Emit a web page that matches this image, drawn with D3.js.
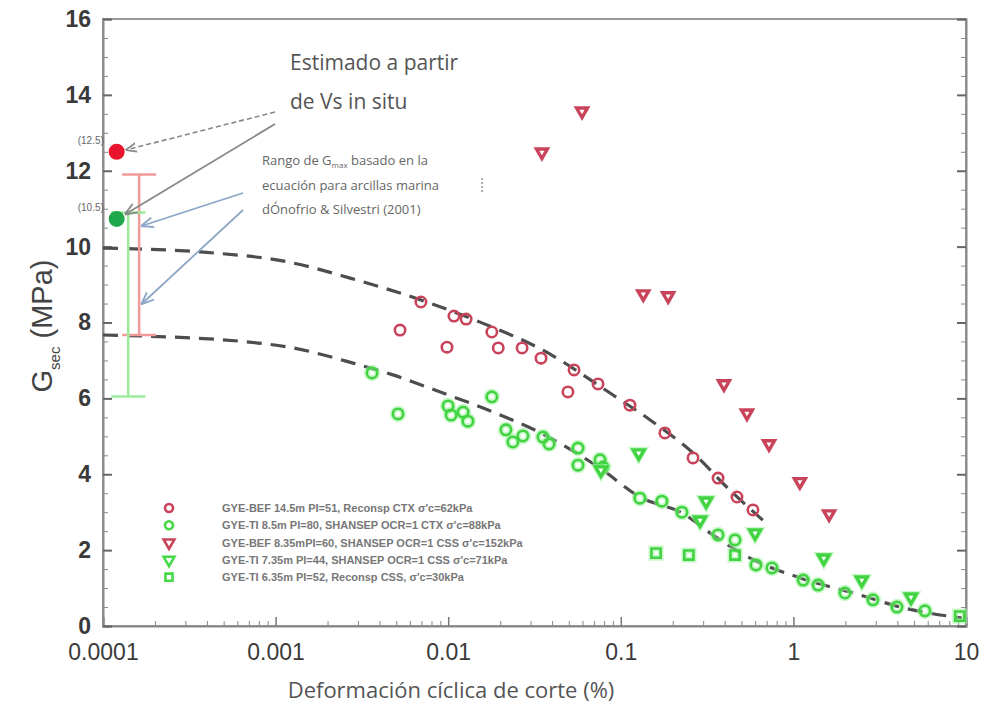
<!DOCTYPE html>
<html>
<head>
<meta charset="utf-8">
<script src="https://cdn.jsdelivr.net/npm/d3@7"></script>
<style>
  body { margin: 0; background: #fff; }
  svg { display: block; }
</style>
</head>
<body>
<div id="chart"></div>
<script>
// layout
const margin = { top: 19, right: 19, bottom: 82, left: 103 },
    W = 985, H = 708,
    width = W - margin.left - margin.right,
    height = H - margin.top - margin.bottom;

// data: [deformación (%), Gsec (MPa)]
const redCircles = [
    [0.00526, 7.80], [0.00695, 8.54], [0.00984, 7.35], [0.0108, 8.17], [0.0127, 8.09],
    [0.0179, 7.75], [0.0195, 7.33], [0.0268, 7.33], [0.0345, 7.06], [0.0494, 6.17],
    [0.0536, 6.75], [0.0738, 6.38], [0.113, 5.82], [0.180, 5.09], [0.262, 4.43],
    [0.366, 3.90], [0.471, 3.40], [0.583, 3.06]
];
const greenCircles = [
    [0.00362, 6.67], [0.00512, 5.59], [0.00998, 5.80], [0.0104, 5.56], [0.0122, 5.64],
    [0.0130, 5.40], [0.0179, 6.04], [0.0216, 5.17], [0.0237, 4.85], [0.0271, 5.01],
    [0.0354, 4.98], [0.0384, 4.80], [0.0565, 4.69], [0.0565, 4.24], [0.0758, 4.38],
    [0.0789, 4.19], [0.129, 3.37], [0.173, 3.29], [0.226, 3.00], [0.366, 2.40],
    [0.459, 2.27], [0.607, 1.61], [0.751, 1.53], [1.14, 1.21], [1.39, 1.08],
    [1.99, 0.87], [2.89, 0.69], [3.98, 0.50], [5.78, 0.40]
];
const redTriangles = [
    [0.0349, 12.49], [0.0596, 13.57], [0.135, 8.75], [0.188, 8.70], [0.396, 6.38],
    [0.538, 5.61], [0.722, 4.80], [1.09, 3.80], [1.61, 2.95]
];
const greenTriangles = [
    [0.0767, 4.11], [0.127, 4.56], [0.288, 2.79], [0.312, 3.29], [0.600, 2.45],
    [1.50, 1.79], [2.49, 1.21], [4.80, 0.76]
];
const greenSquares = [
    [0.160, 1.92], [0.248, 1.87], [0.459, 1.87], [9.2, 0.26]
];

// curvas de degradación
const upperCurve = [
    [0.0001, 9.96], [0.000365, 9.86], [0.00126, 9.57], [0.0027, 9.17], [0.00753, 8.54],
    [0.0153, 8.01], [0.0354, 7.27], [0.0901, 6.09], [0.148, 5.43], [0.262, 4.56],
    [0.429, 3.58], [0.684, 2.74]
];
const lowerCurve = [
    [0.0001, 7.67], [0.000682, 7.49], [0.00126, 7.33], [0.00281, 6.93], [0.00478, 6.62],
    [0.00933, 6.14], [0.0182, 5.64], [0.0354, 5.06], [0.0758, 4.16], [0.129, 3.40],
    [0.226, 2.98], [0.342, 2.40], [0.561, 1.79], [1.09, 1.27], [2.43, 0.82],
    [4.15, 0.50], [9.48, 0.21]
];

// Gmax a partir de Vs in situ
const vsPoints = [
    { x: 0.00012, g: 12.5, label: "(12.5)", color: "#e8152d" },
    { x: 0.00012, g: 10.73, label: "(10.5)", color: "#1ea84b" }
];
// rango de Gmax (d'Onofrio & Silvestri)
const rangeBars = [
    { x: 0.000162, lo: 7.67, hi: 11.9, color: "#f29a9a" },
    { x: 0.000140, lo: 6.05, hi: 10.9, color: "#9beb9b" }
];

const xTicks = [0.0001, 0.001, 0.01, 0.1, 1, 10];
const xTickLabels = ["0.0001", "0.001", "0.01", "0.1", "1", "10"];
const yTicks = [0, 2, 4, 6, 8, 10, 12, 14, 16];

const legendItems = [
    { label: "GYE-BEF 14.5m PI=51, Reconsp CTX σ'c=62kPa", shape: "circle", color: "#c9445a" },
    { label: "GYE-TI 8.5m PI=80, SHANSEP OCR=1 CTX σ'c=88kPa", shape: "circle", color: "#46d846" },
    { label: "GYE-BEF 8.35mPI=60, SHANSEP OCR=1 CSS σ'c=152kPa", shape: "triangle", color: "#c9445a" },
    { label: "GYE-TI 7.35m PI=44, SHANSEP OCR=1 CSS σ'c=71kPa", shape: "triangle", color: "#46d846" },
    { label: "GYE-TI 6.35m PI=52, Reconsp CSS, σ'c=30kPa", shape: "square", color: "#46d846" }
];

const x = d3.scaleLog().domain([0.0001, 10]).range([0, width]);
const y = d3.scaleLinear().domain([0, 16]).range([height, 0]);

const svg = d3.select("#chart").append("svg")
    .attr("width", W)
    .attr("height", H);

const defs = svg.append("defs");
defs.append("marker")
    .attr("id", "arrGray")
    .attr("viewBox", "0 0 10 10")
    .attr("refX", 9).attr("refY", 5)
    .attr("markerWidth", 7).attr("markerHeight", 7)
    .attr("orient", "auto")
    .append("path").attr("d", "M0,1L10,5L0,9").attr("fill", "none").attr("stroke", "#888").attr("stroke-width", 1.5);
defs.append("marker")
    .attr("id", "arrBlue")
    .attr("viewBox", "0 0 10 10")
    .attr("refX", 9).attr("refY", 5)
    .attr("markerWidth", 7).attr("markerHeight", 7)
    .attr("orient", "auto")
    .append("path").attr("d", "M0,1L10,5L0,9").attr("fill", "none").attr("stroke", "#8da6c6").attr("stroke-width", 1.5);

const g = svg.append("g").attr("transform", `translate(${margin.left},${margin.top})`);

// marco
g.append("rect")
    .attr("width", width).attr("height", height)
    .attr("fill", "none").attr("stroke", "#9a9a9a").attr("stroke-width", 2);

// eje x
const minorX = [];
for (let e = -4; e < 1; e++) for (let m = 2; m <= 9; m++) minorX.push(m * Math.pow(10, e));
g.append("g")
    .attr("transform", `translate(0,${height})`)
    .call(d3.axisBottom(x).tickValues(minorX).tickSize(-5).tickFormat(""))
    .call(a => a.select(".domain").remove())
    .selectAll("line").attr("stroke", "#888");
const xAxis = g.append("g")
    .attr("transform", `translate(0,${height})`)
    .call(d3.axisBottom(x).tickValues(xTicks).tickSize(-9).tickPadding(18)
        .tickFormat((d, i) => xTickLabels[i]));
xAxis.select(".domain").attr("stroke", "#888").attr("stroke-width", 2);
xAxis.selectAll("line").attr("stroke", "#777").attr("stroke-width", 1.5);
xAxis.selectAll("text")
    .attr("font-family", "'Liberation Sans', Arial, sans-serif")
    .attr("font-size", 23).attr("fill", "#3a3a3a");

// eje y
const minorY = d3.range(0, 16.01, 0.5).filter(v => v % 2 !== 0);
[0, width].forEach((pos, k) => {
    const ax = k === 0 ? d3.axisLeft(y) : d3.axisRight(y);
    g.append("g")
        .attr("transform", `translate(${pos},0)`)
        .call(ax.tickValues(minorY).tickSize(-5).tickFormat(""))
        .call(a => a.select(".domain").remove())
        .selectAll("line").attr("stroke", "#888");
    const major = g.append("g")
        .attr("transform", `translate(${pos},0)`)
        .call(ax.tickValues(yTicks).tickSize(-9).tickPadding(12)
            .tickFormat(k === 0 ? d3.format("d") : ""));
    major.select(".domain").attr("stroke", "#8a8a8a").attr("stroke-width", 2);
    major.selectAll("line").attr("stroke", "#666").attr("stroke-width", 2);
    major.selectAll("text")
        .attr("font-family", "'Liberation Sans', Arial, sans-serif")
        .attr("font-weight", "bold")
        .attr("font-size", 23).attr("fill", "#3a3a3a");
});

// títulos de ejes
svg.append("text")
    .attr("x", 451)
    .attr("y", 698)
    .attr("text-anchor", "middle")
    .attr("font-family", "'Open Sans', sans-serif")
    .attr("font-size", 22)
    .attr("fill", "#555")
    .text("Deformación cíclica de corte (%)");

const yTitle = svg.append("text")
    .attr("transform", `translate(52,326) rotate(-90)`)
    .attr("text-anchor", "middle")
    .attr("font-family", "'Liberation Sans', Arial, sans-serif")
    .attr("font-size", 29)
    .attr("fill", "#444");
yTitle.append("tspan").text("G");
yTitle.append("tspan").attr("font-size", 15).attr("dy", 8).text("sec");
yTitle.append("tspan").attr("dy", -8).text(" (MPa)");

// curvas
const line = d3.line()
    .x(d => x(d[0]))
    .y(d => y(d[1]))
    .curve(d3.curveMonotoneX);
[upperCurve, lowerCurve].forEach(c => {
    g.append("path")
        .datum(c)
        .attr("d", line)
        .attr("fill", "none")
        .attr("stroke", "#4d4d4d")
        .attr("stroke-width", 3.2)
        .attr("stroke-dasharray", "15,9");
});

// barras de rango
rangeBars.forEach(b => {
    const bx = x(b.x);
    g.append("line").attr("x1", bx).attr("x2", bx).attr("y1", y(b.hi)).attr("y2", y(b.lo))
        .attr("stroke", b.color).attr("stroke-width", 2.5);
    [b.hi, b.lo].forEach(v => {
        g.append("line").attr("x1", bx - 17).attr("x2", bx + 17).attr("y1", y(v)).attr("y2", y(v))
            .attr("stroke", b.color).attr("stroke-width", 2.5);
    });
});

// símbolos
const markerSymbol = {
    circle: d3.symbol().type(d3.symbolCircle).size(85),
    triangle: d3.symbol().type(d3.symbolTriangle).size(52),
    square: d3.symbol().type(d3.symbolSquare).size(85)
};
function drawSeries(data, shape, color, glow) {
    const rot = shape === "triangle" ? " rotate(180)" : "";
    if (glow) {
        g.append("g").selectAll("path")
            .data(data).enter().append("path")
            .attr("transform", d => `translate(${x(d[0])},${y(d[1])})${rot}`)
            .attr("d", markerSymbol[shape])
            .attr("fill", "none")
            .attr("stroke", "#9ef29e")
            .attr("stroke-opacity", 0.55)
            .attr("stroke-width", 6);
    }
    g.append("g").selectAll("path")
        .data(data).enter().append("path")
        .attr("transform", d => `translate(${x(d[0])},${y(d[1])})${rot}`)
        .attr("d", markerSymbol[shape])
        .attr("fill", shape === "triangle" ? "#fff" : "none")
        .attr("stroke", color)
        .attr("stroke-width", shape === "triangle" ? 3.4 : 2.6);
}
drawSeries(greenSquares, "square", "#41d341", true);
drawSeries(greenCircles, "circle", "#41d341", true);
drawSeries(greenTriangles, "triangle", "#41d341", true);
drawSeries(redCircles, "circle", "#c9445a", false);
drawSeries(redTriangles, "triangle", "#c9445a", false);

// puntos de Vs in situ
vsPoints.forEach(p => {
    g.append("circle").attr("cx", x(p.x)).attr("cy", y(p.g)).attr("r", 8).attr("fill", p.color);
    g.append("text")
        .attr("x", x(p.x) - 39).attr("y", y(p.g) - 8)
        .attr("font-family", "'Liberation Sans', Arial, sans-serif")
        .attr("font-size", 10).attr("fill", "#666")
        .text(p.label);
});

// anotaciones
const note = svg.append("g").attr("font-family", "'Open Sans', sans-serif");
note.append("text").attr("x", 290).attr("y", 70).attr("font-size", 21).attr("fill", "#555").text("Estimado a partir");
note.append("text").attr("x", 290).attr("y", 109).attr("font-size", 21).attr("fill", "#555").text("de Vs in situ");

const n2 = note.append("text").attr("x", 262).attr("y", 165).attr("font-size", 13).attr("fill", "#666");
n2.append("tspan").text("Rango de G");
n2.append("tspan").attr("font-size", 8).attr("dy", 3).text("max");
n2.append("tspan").attr("dy", -3).text(" basado en la");
note.append("text").attr("x", 262).attr("y", 190).attr("font-size", 13).attr("fill", "#666").text("ecuación para arcillas marina");
note.append("text").attr("x", 262).attr("y", 214).attr("font-size", 13).attr("fill", "#666").text("dÓnofrio & Silvestri (2001)");
note.append("line").attr("x1", 482).attr("x2", 482).attr("y1", 178).attr("y2", 192)
    .attr("stroke", "#aaa").attr("stroke-width", 2).attr("stroke-dasharray", "2,2");

// flechas
const ox = margin.left, oy = margin.top;
svg.append("line")
    .attr("x1", 275).attr("y1", 112)
    .attr("x2", ox + x(vsPoints[0].x) + 10).attr("y2", oy + y(vsPoints[0].g) - 2)
    .attr("stroke", "#888").attr("stroke-width", 1.6).attr("stroke-dasharray", "5,3")
    .attr("marker-end", "url(#arrGray)");
svg.append("line")
    .attr("x1", 275).attr("y1", 124)
    .attr("x2", ox + x(vsPoints[1].x) + 9).attr("y2", oy + y(vsPoints[1].g) - 5)
    .attr("stroke", "#888").attr("stroke-width", 1.8)
    .attr("marker-end", "url(#arrGray)");
svg.append("line")
    .attr("x1", 243).attr("y1", 193)
    .attr("x2", ox + x(rangeBars[0].x) + 3).attr("y2", oy + y(10.55))
    .attr("stroke", "#8da6c6").attr("stroke-width", 1.8)
    .attr("marker-end", "url(#arrBlue)");
svg.append("line")
    .attr("x1", 243).attr("y1", 210)
    .attr("x2", ox + x(rangeBars[0].x) + 3).attr("y2", oy + y(8.5))
    .attr("stroke", "#8da6c6").attr("stroke-width", 1.8)
    .attr("marker-end", "url(#arrBlue)");

// leyenda
const legend = svg.append("g").attr("transform", "translate(169,508)");
legendItems.forEach((d, i) => {
    const row = legend.append("g").attr("transform", `translate(0,${i * 17.3})`);
    row.append("path")
        .attr("d", d3.symbol().type(d.shape === "circle" ? d3.symbolCircle : d.shape === "triangle" ? d3.symbolTriangle : d3.symbolSquare).size(50))
        .attr("transform", d.shape === "triangle" ? "rotate(180)" : null)
        .attr("fill", d.shape === "triangle" ? "#fff" : "none")
        .attr("stroke", d.color).attr("stroke-width", 2.6);
    row.append("text")
        .attr("x", 53).attr("y", 4)
        .attr("font-family", "'Liberation Sans', Arial, sans-serif")
        .attr("font-size", 11).attr("font-weight", "bold")
        .attr("fill", "#777")
        .text(d.label);
});
</script>
</body>
</html>
